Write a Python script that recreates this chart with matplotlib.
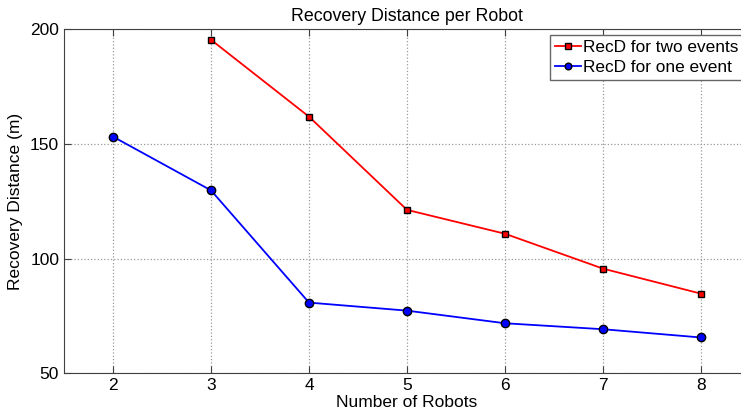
import numpy as np
import matplotlib.pyplot as plt

plt.rcParams['font.family'] = ['Liberation Sans', 'DejaVu Sans']

robots_two = [3, 4, 5, 6, 7, 8]
recd_two = [195.3, 161.8, 121.2, 110.8, 95.6, 84.7]
robots_one = [2, 3, 4, 5, 6, 7, 8]
recd_one = [153.1, 129.7, 80.8, 77.3, 71.8, 69.2, 65.6]

fig = plt.figure(figsize=(7.41, 4.16), dpi=100)
ax = fig.add_axes([64 / 741, 1 - 373.3 / 416, 686 / 741, 344.3 / 416])

ax.plot(robots_two, recd_two, color='red', lw=1.3, marker='s', ms=5,
        mfc='red', mec='black', mew=1, label='RecD for two events')
ax.plot(robots_one, recd_one, color='blue', lw=1.3, marker='o', ms=6,
        mfc='blue', mec='black', mew=1, label='RecD for one event')

ax.set_xlim(1.5, 8.5)
ax.set_ylim(50, 200)
ax.set_xticks(range(2, 9))
ax.set_yticks([50, 100, 150, 200])
ax.grid(True, linestyle=':', color='#999999', lw=0.9)
ax.tick_params(direction='in', top=True, right=True, length=5, labelsize=12.5,
               color='#404040')
for s in ax.spines.values():
    s.set_color('#404040')

ax.set_title('Recovery Distance per Robot', fontsize=12.8, pad=6)
ax.set_xlabel('Number of Robots', fontsize=12.5, labelpad=1)
ax.set_ylabel('Recovery Distance (m)', fontsize=12.5, labelpad=5)

leg = ax.legend(loc='upper left', bbox_to_anchor=(549.5 / 741, 1 - 35 / 416),
                bbox_transform=fig.transFigure, fontsize=12.4, fancybox=False,
                framealpha=1, edgecolor='#666666', handlelength=1.5,
                borderpad=0.3, labelspacing=0.25, handletextpad=0.15,
                borderaxespad=0, markerscale=0.8)

fig.savefig('out.png', dpi=100)
